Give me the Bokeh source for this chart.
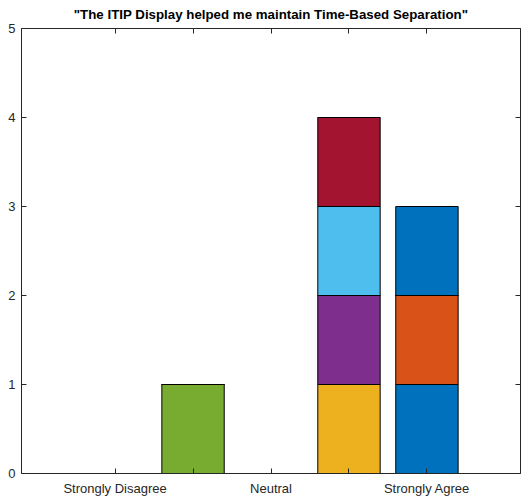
from bokeh.plotting import figure
from bokeh.models import LinearAxis, FixedTicker, Range1d, ColumnDataSource
from bokeh.embed import file_html
from bokeh.resources import INLINE

categories = [1, 2, 3, 4, 5]
tick_labels = ["Strongly Disagree", "", "Neutral", "", "Strongly Agree"]
s1 = [0, 0, 0, 0, 1]
s2 = [0, 0, 0, 0, 1]
s3 = [0, 0, 0, 1, 0]
s4 = [0, 0, 0, 1, 0]
s5 = [0, 1, 0, 0, 0]
s6 = [0, 0, 0, 1, 0]
s7 = [0, 0, 0, 1, 0]
s8 = [0, 0, 0, 0, 1]
series = ["s1", "s2", "s3", "s4", "s5", "s6", "s7", "s8"]
colors = ["#0072BD", "#D95319", "#EDB120", "#7E2F8E", "#77AC30", "#4DBEEE", "#A2142F", "#0072BD"]
title_text = '"The ITIP Display helped me maintain Time-Based Separation"'

FONT = "Liberation Sans"
AX = "#262626"

src = ColumnDataSource(dict(x=categories, s1=s1, s2=s2, s3=s3, s4=s4,
                            s5=s5, s6=s6, s7=s7, s8=s8))

p = figure(output_backend="svg", toolbar_location=None,
           frame_width=499, frame_height=445,
           x_range=Range1d(-0.2, 6.2), y_range=Range1d(0, 5),
           min_border_left=21, min_border_right=1,
           min_border_top=28, min_border_bottom=24,
           x_axis_location=None, y_axis_location=None)
p.title.text = title_text
p.title.align = "center"
p.title.vertical_align = "top"
p.title.text_font = FONT
p.title.text_font_size = "13.3px"
p.title.text_font_style = "bold"
p.title.text_color = "black"
p.title.standoff = 9
p.grid.visible = False
p.outline_line_color = None
p.background_fill_color = "white"
p.border_fill_color = "white"

p.vbar_stack(series, x="x", width=0.8, source=src, color=colors,
             line_color="black", line_width=1)

def mk_axis(kind, show_labels):
    ax = LinearAxis()
    ax.ticker = FixedTicker(ticks=categories if kind == "x" else [0, 1, 2, 3, 4, 5])
    ax.axis_line_color = AX
    ax.major_tick_line_color = AX
    ax.major_tick_in = 5
    ax.major_tick_out = 0
    ax.minor_tick_line_color = None
    ax.axis_line_width = 1
    if show_labels:
        ax.major_label_text_font = FONT
        ax.major_label_text_font_size = "13px"
        ax.major_label_text_color = AX
        ax.major_label_standoff = 6
    else:
        ax.major_label_text_font_size = "0px"
        ax.major_label_text_color = None
        ax.major_label_standoff = 0
    return ax

xb = mk_axis("x", True)
xb.major_label_standoff = 7
xb.major_label_overrides = {c: l for c, l in zip(categories, tick_labels)}
p.add_layout(xb, "below")
yl = mk_axis("y", True)
p.add_layout(yl, "left")
xt = mk_axis("x", False)
p.add_layout(xt, "above")
yr = mk_axis("y", False)
p.add_layout(yr, "right")

open("out.html", "w").write(file_html(p, INLINE))
